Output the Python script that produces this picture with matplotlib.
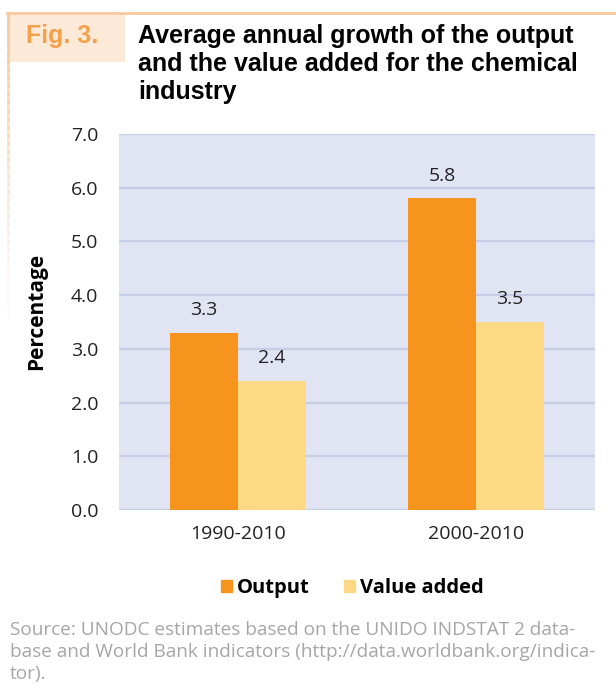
import matplotlib
matplotlib.use("Agg")
import matplotlib.pyplot as plt
import numpy as np
from matplotlib.lines import Line2D
from matplotlib.patches import Patch, Rectangle

# Данные графика
periods = ["1990-2010", "2000-2010"]
output_growth = [3.3, 5.8]
value_added_growth = [2.4, 3.5]
series_names = ["Output", "Value added"]
y_ticks = [0.0, 1.0, 2.0, 3.0, 4.0, 5.0, 6.0, 7.0]

ORANGE = "#F7941E"
YELLOW = "#FDD885"
BG = "#E1E4F3"
GRID = "#C6CDE6"
TXT = "#222222"

W, H = 616, 691
fig = plt.figure(figsize=(W / 100, H / 100), dpi=100)

# Рамка заголовка
fig.add_artist(Line2D([7 / W, 1], [1 - 13 / H] * 2, color="#F9C8A0", lw=2))
n_seg = 40
for i in range(n_seg):
    y0 = 13 + i * (325 / n_seg)
    y1 = y0 + 325 / n_seg
    fig.add_artist(Line2D([8 / W] * 2, [1 - y0 / H, 1 - y1 / H], color="#F9C8A0",
                          lw=2, alpha=max(0.0, 1 - i / n_seg) ** 1.5))
fig.add_artist(Rectangle((8 / W, 1 - 62 / H), 117 / W, 48 / H, transform=fig.transFigure,
                         facecolor="#FDE9D8", edgecolor="none"))
fig.text(26 / W, 1 - 36 / H, "Fig. 3.", family="Liberation Sans", weight="bold",
         fontsize=18, color="#F5A04A", va="center", ha="left")
fig.text(138 / W, 1 - 24 / H,
         "Average annual growth of the output\nand the value added for the chemical\nindustry",
         family="Liberation Sans", weight="bold", fontsize=18, color="black",
         va="top", ha="left", linespacing=1.2)

ax = fig.add_axes([119 / W, 1 - 510 / H, 476 / W, 376 / H])
ax.set_facecolor(BG)
x = np.arange(len(periods))
bw = 0.286
b1 = ax.bar(x - bw / 2, output_growth, bw, color=ORANGE, zorder=3)
b2 = ax.bar(x + bw / 2, value_added_growth, bw, color=YELLOW, zorder=3)
for bars, vals in ((b1, output_growth), (b2, value_added_growth)):
    for rect, v in zip(bars, vals):
        ax.annotate(f"{v:.1f}", (rect.get_x() + rect.get_width() / 2, v),
                    xytext=(0, 10), textcoords="offset points", ha="center", va="bottom",
                    family="Open Sans", fontsize=14, color=TXT)

ax.set_xlim(-0.5, 1.5)
ax.set_ylim(0, 7)
ax.set_yticks(y_ticks)
ax.set_yticklabels([f"{t:.1f}" for t in y_ticks], family="Open Sans", fontsize=14, color=TXT)
ax.set_xticks(x)
ax.set_xticklabels(periods, family="Open Sans", fontsize=14, color=TXT)
ax.tick_params(length=0)
ax.tick_params(axis="y", pad=15)
ax.tick_params(axis="x", pad=11)
ax.grid(axis="y", color=GRID, lw=1.6, zorder=1)
ax.set_axisbelow(True)
for s in ax.spines.values():
    s.set_visible(False)
ax.set_ylabel("Percentage", family="Open Sans", weight="bold", fontsize=15)
ax.yaxis.set_label_coords(-72 / 476, (510 - 311) / 376)

handles = [Patch(color=ORANGE), Patch(color=YELLOW)]
fig.legend(handles, series_names, loc="center", bbox_to_anchor=(352 / W, 1 - 588 / H),
           ncol=2, frameon=False, handlelength=0.55, handleheight=0.55, handletextpad=0.25,
           columnspacing=1.7, prop={"family": "Open Sans", "weight": "bold", "size": 14.5})

fig.text(10 / W, 1 - 621 / H,
         "Source: UNODC estimates based on the UNIDO INDSTAT 2 data-\n"
         "base and World Bank indicators (http://data.worldbank.org/indica-\ntor).",
         family="Open Sans", fontsize=13.7, color="#A6A6A6", va="top", ha="left", linespacing=1.28)

fig.savefig("out.png", dpi=100)
